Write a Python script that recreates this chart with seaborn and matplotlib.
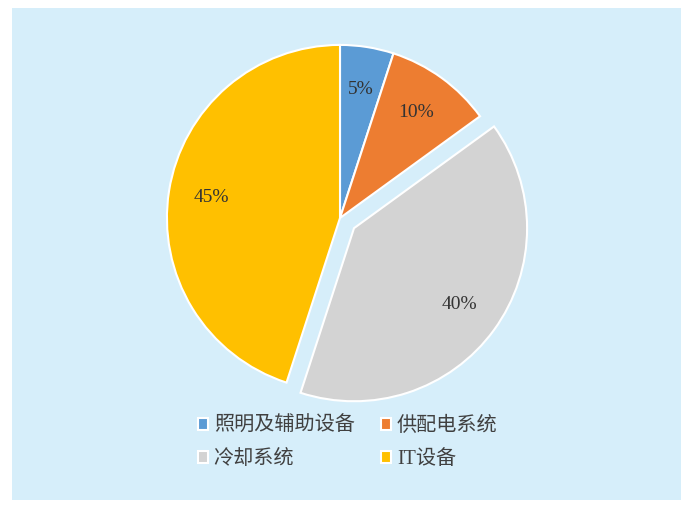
import numpy as np
import seaborn as sns
import matplotlib.pyplot as plt
from matplotlib.patches import Rectangle

## data
labels = ["照明及辅助设备", "供配电系统", "冷却系统", "IT设备"]
shares = [5, 10, 40, 45]
colors = ["#5B9BD5", "#ED7D31", "#D3D3D3", "#FFC000"]
explode = [0, 0, 0.1, 0]

sns.set_theme(style="white")
plt.rcParams['font.family'] = ['Liberation Serif', 'Noto Sans CJK SC', 'DejaVu Sans']

fig = plt.figure(figsize=(6.91, 5.08), dpi=100)
fig.patch.set_facecolor("white")

## light blue panel behind everything
W, H = 691, 508
fig.patches.append(Rectangle((12 / W, 8 / H), 669 / W, 492 / H,
                             transform=fig.transFigure, facecolor="#D6EEFA",
                             edgecolor="none", zorder=-1))

ax = fig.add_axes([115 / W, 65 / H, 450 / W, 450 / H])
ax.set_facecolor("none")
ax.set_zorder(2)

wedges, texts, autotexts = ax.pie(
    shares, colors=colors, explode=explode, startangle=90, counterclock=False,
    autopct=lambda p: f"{p:.0f}%", pctdistance=0.75,
    wedgeprops=dict(edgecolor="white", linewidth=1.5),
    textprops=dict(fontsize=14, color="#333333"))
ax.set_xlim(-1.3, 1.3)
ax.set_ylim(-1.3, 1.3)
ax.set_aspect("equal")
ax.axis("off")

# legend reads row by row in the original
order = [0, 2, 1, 3]
leg = fig.legend([wedges[i] for i in order], [labels[i] for i in order],
                 ncol=2, loc="center", bbox_to_anchor=(0.503, 1 - 443 / H),
                 frameon=False, fontsize=14.5, handlelength=0.5, handleheight=0.5,
                 handletextpad=0.3, columnspacing=1.3, labelspacing=0.68,
                 labelcolor="#404040")
leg.set_zorder(3)

fig.savefig("out.png", dpi=100, facecolor=fig.get_facecolor())
